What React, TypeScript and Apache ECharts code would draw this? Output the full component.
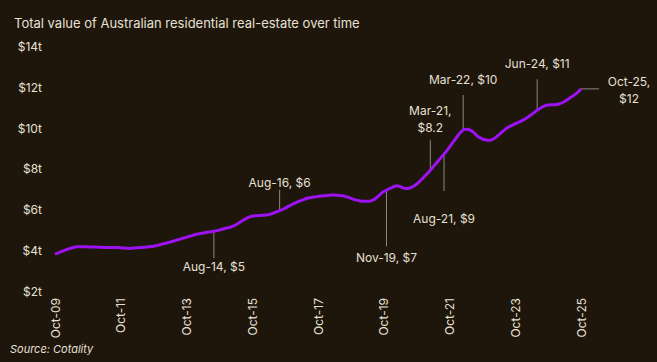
import React, { useEffect, useRef } from "react";
import * as echarts from "echarts";

const TITLE = "Total value of Australian residential real-estate over time";
const SOURCE = "Source: Cotality";

const MONTHS = ["Jan", "Feb", "Mar", "Apr", "May", "Jun", "Jul", "Aug", "Sep", "Oct", "Nov", "Dec"];
// Monthly categories from Oct-09 to Oct-25
const categories: string[] = [];
for (let y = 2009, m = 9; y < 2025 || (y === 2025 && m <= 9); ) {
  categories.push(`${MONTHS[m]}-${String(y % 100).padStart(2, "0")}`);
  m++;
  if (m === 12) { m = 0; y++; }
}

// Total value, $ trillion (monthly)
const values: number[] = [
  3.81, 3.86, 3.92, 3.97, 4.02, 4.07, 4.11, 4.15, 4.17, 4.17, 4.17, 4.17,
  4.17, 4.16, 4.16, 4.16, 4.15, 4.15, 4.14, 4.14, 4.14, 4.14, 4.14, 4.13,
  4.12, 4.11, 4.10, 4.09, 4.10, 4.11, 4.12, 4.13, 4.14, 4.15, 4.17, 4.18,
  4.20, 4.23, 4.26, 4.30, 4.33, 4.37, 4.40, 4.44, 4.48, 4.52, 4.56, 4.60,
  4.64, 4.68, 4.72, 4.76, 4.79, 4.82, 4.85, 4.87, 4.89, 4.91, 4.93, 4.96,
  4.99, 5.03, 5.07, 5.10, 5.13, 5.18, 5.25, 5.33, 5.42, 5.50, 5.58, 5.64,
  5.67, 5.69, 5.70, 5.71, 5.72, 5.73, 5.75, 5.79, 5.84, 5.89, 5.94, 6.00,
  6.07, 6.14, 6.21, 6.28, 6.34, 6.40, 6.45, 6.50, 6.55, 6.58, 6.60, 6.62,
  6.64, 6.66, 6.67, 6.68, 6.70, 6.71, 6.71, 6.70, 6.69, 6.67, 6.64, 6.60,
  6.55, 6.50, 6.46, 6.43, 6.41, 6.40, 6.40, 6.41, 6.46, 6.54, 6.66, 6.78,
  6.88, 6.94, 7.02, 7.08, 7.14, 7.16, 7.12, 7.06, 7.03, 7.04, 7.08, 7.15,
  7.25, 7.37, 7.50, 7.64, 7.78, 7.93, 8.09, 8.25, 8.40, 8.56, 8.72, 8.88,
  9.06, 9.25, 9.43, 9.62, 9.78, 9.90, 9.94, 9.93, 9.86, 9.76, 9.63, 9.53,
  9.46, 9.42, 9.40, 9.40, 9.46, 9.55, 9.66, 9.78, 9.90, 10.00, 10.08, 10.14,
  10.21, 10.27, 10.33, 10.40, 10.48, 10.57, 10.67, 10.77, 10.87, 10.96, 11.04, 11.10,
  11.13, 11.14, 11.14, 11.15, 11.18, 11.23, 11.30, 11.39, 11.48, 11.57, 11.66, 11.78,
  11.92,
];

const yTicks = [2, 4, 6, 8, 10, 12, 14];

// Annotated months and their labels
const annotationMonths = ["Aug-14", "Aug-16", "Nov-19", "Mar-21", "Aug-21", "Mar-22", "Jun-24", "Oct-25"];
const annotationTexts = ["Aug-14, $5", "Aug-16, $6", "Nov-19, $7", "Mar-21,\n$8.2", "Aug-21, $9", "Mar-22, $10", "Jun-24, $11", "Oct-25,\n$12"];

// Leader-line end offset and label centre offset (pixels, relative to the point)
const annotationLayout = [
  { ex: 0, ey: 27, lx: 0, ly: 35 },
  { ex: 0, ey: -21, lx: 0, ly: -28.5 },
  { ex: 0, ey: 56, lx: 0, ly: 67 },
  { ex: 0, ey: -30, lx: 0, ly: -51 },
  { ex: 0, ey: 37, lx: 0, ly: 64 },
  { ex: 0, ey: -35, lx: 0, ly: -50.5 },
  { ex: 0, ey: -31, lx: 0, ly: -47 },
  { ex: 18, ey: 0, lx: 48, ly: 1 },
];

const BG = "#1e150b";
const TEXT = "#e6e0d4";
const LINE = "#9d12f2";
const LEADER = "#8c8780";
const FONT = "Inter, 'Noto Sans', sans-serif";

export default function App() {
  const ref = useRef<HTMLDivElement>(null);
  useEffect(() => {
    if (!ref.current) return;
    const chart = echarts.init(ref.current, undefined, { renderer: "svg" });
    chart.setOption({
      animation: false,
      backgroundColor: BG,
      textStyle: { fontFamily: FONT },
      grid: { left: 55, right: 76, top: 46.5, bottom: 71 },
      xAxis: {
        type: "category",
        data: categories,
        boundaryGap: false,
        axisLine: { show: false },
        axisTick: { show: false },
        axisLabel: {
          interval: 23,
          rotate: 90,
          margin: 7,
          color: TEXT,
          fontSize: 12,
          fontFamily: FONT,
        },
        splitLine: { show: false },
      },
      yAxis: {
        type: "value",
        min: yTicks[0],
        max: yTicks[yTicks.length - 1],
        interval: 2,
        axisLine: { show: false },
        axisTick: { show: false },
        splitLine: { show: false },
        axisLabel: {
          color: TEXT,
          fontSize: 12,
          margin: 13,
          fontFamily: FONT,
          formatter: (v: number) => `$${v}t`,
        },
      },
      series: [
        {
          type: "line",
          data: values,
          showSymbol: false,
          smooth: 0.3,
          lineStyle: { color: LINE, width: 3 },
          itemStyle: { color: LINE },
        },
      ],
    });

    const graphics: any[] = [
      {
        type: "text",
        left: 14,
        top: 16,
        style: { text: TITLE, fill: TEXT, font: `13px ${FONT}` },
      },
      {
        type: "text",
        left: 10,
        top: 343,
        style: { text: SOURCE, fill: TEXT, font: `italic 11px ${FONT}` },
      },
    ];
    annotationMonths.forEach((m, i) => {
      const idx = categories.indexOf(m);
      if (idx < 0) return;
      const p = chart.convertToPixel({ seriesIndex: 0 }, [idx, values[idx]]) as number[];
      const L = annotationLayout[i];
      graphics.push({
        type: "line",
        shape: { x1: p[0], y1: p[1], x2: p[0] + L.ex, y2: p[1] + L.ey },
        style: { stroke: LEADER, lineWidth: 1 },
        z: 1,
      });
      graphics.push({
        type: "text",
        x: p[0] + L.lx,
        y: p[1] + L.ly,
        style: {
          text: annotationTexts[i],
          fill: TEXT,
          font: `12px ${FONT}`,
          align: "center",
          verticalAlign: "middle",
          lineHeight: 17,
        },
        z: 5,
      });
    });
    chart.setOption({ graphic: graphics });
    return () => chart.dispose();
  }, []);
  return (
    <div
      ref={ref}
      style={{ position: "fixed", left: 0, top: 0, width: 657, height: 362, background: BG }}
    />
  );
}
